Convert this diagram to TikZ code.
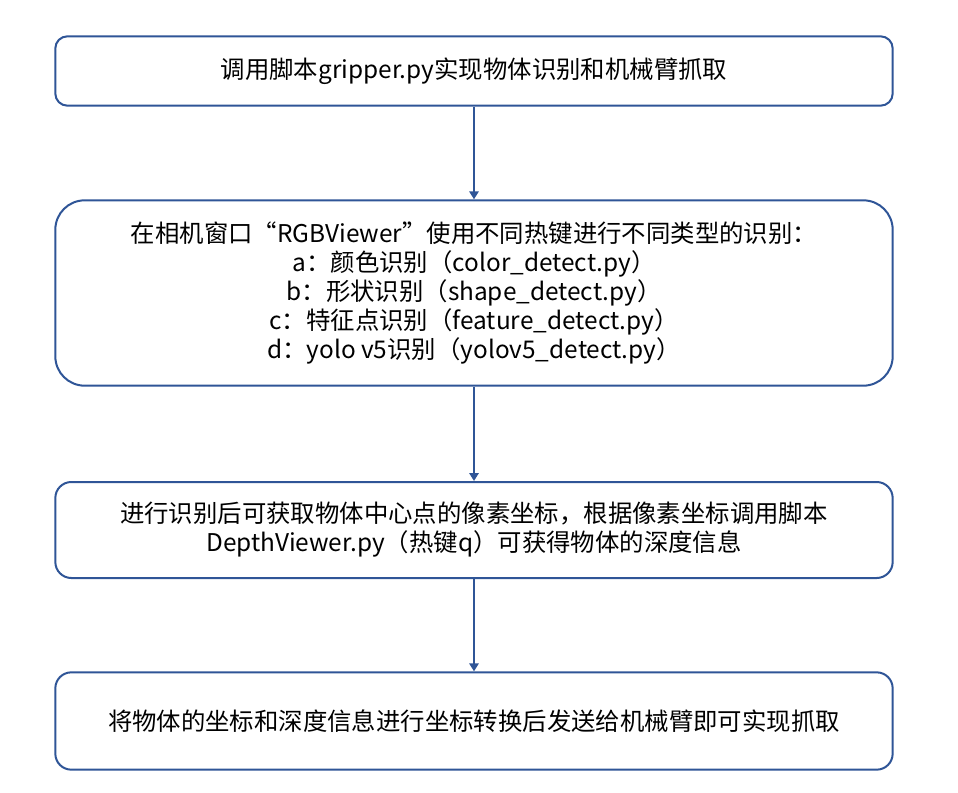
\documentclass[tikz,border=0pt]{standalone}
\usepackage{fontspec}
\setmainfont{Noto Sans CJK SC}
\usetikzlibrary{positioning,arrows.meta}
\definecolor{boxblue}{RGB}{47,85,151}

\begin{document}
\begin{tikzpicture}[x=0.75pt, y=-0.75pt,
  every node/.style={rectangle, draw=boxblue, line width=1.5pt, fill=white,
    minimum width=628pt, align=center, inner sep=2pt,
    font=\fontsize{18.3}{21.8}\selectfont},
  flow/.style={draw=boxblue, line width=1.5pt, -{Triangle[width=7pt,length=6pt]}}
]
\useasboundingbox (0,0) rectangle (958,793);
% Steps from top to bottom
\node[rounded corners=9pt, minimum height=52pt] (call) at (474,71)
  {调用脚本gripper.py实现物体识别和机械臂抓取};
\node[rounded corners=22pt, minimum height=139pt] (keys) at (474,293)
  {在相机窗口“RGBViewer”使用不同热键进行不同类型的识别：\\
   a：颜色识别（color\_detect.py）\\
   b：形状识别（shape\_detect.py）\\
   c：特征点识别（feature\_detect.py）\\
   d：yolo v5识别（yolov5\_detect.py）};
\node[rounded corners=12pt, minimum height=72pt] (depth) at (474,530)
  {进行识别后可获取物体中心点的像素坐标，根据像素坐标调用脚本\\
   DepthViewer.py（热键q）可获得物体的深度信息};
\node[rounded corners=12pt, minimum height=73pt] (grab) at (474,721)
  {将物体的坐标和深度信息进行坐标转换后发送给机械臂即可实现抓取};
% Arrows
\draw[flow] (call) -- (keys);
\draw[flow] (keys) -- (depth);
\draw[flow] (depth) -- (grab);
\end{tikzpicture}
\end{document}
